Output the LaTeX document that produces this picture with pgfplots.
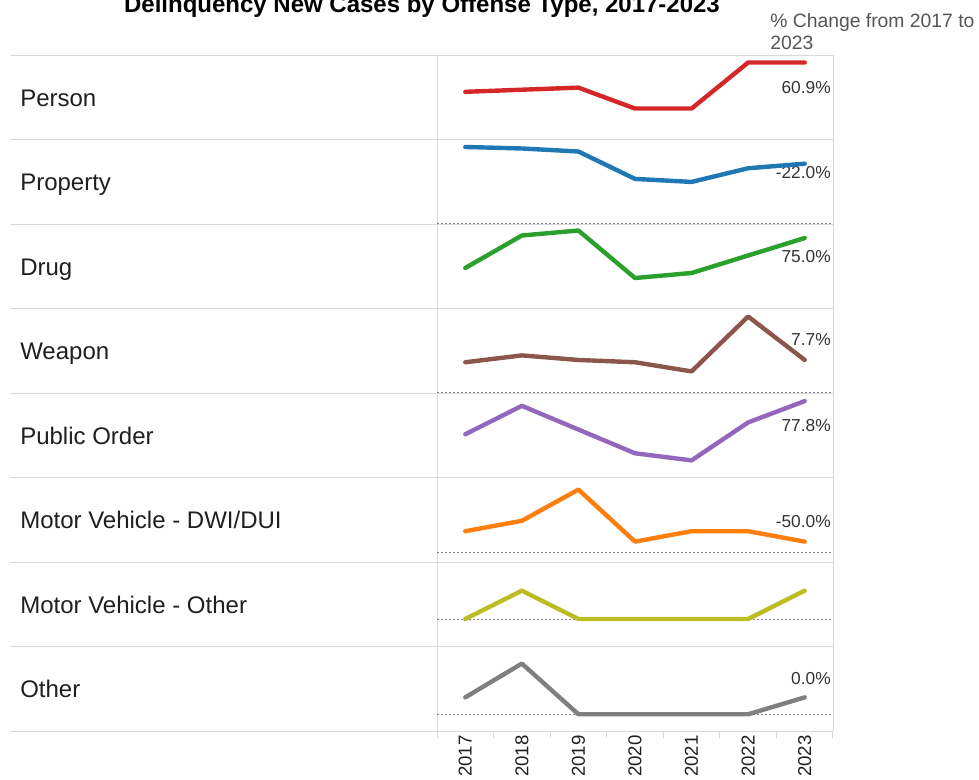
\documentclass[border=0pt]{standalone}
\usepackage{fontspec}
\setmainfont{Liberation Sans}
\usepackage{pgfplots}
\pgfplotsset{compat=1.18}

\definecolor{cPerson}{HTML}{D62728}
\definecolor{cProperty}{HTML}{1F77B4}
\definecolor{cDrug}{HTML}{2CA02C}
\definecolor{cWeapon}{HTML}{8C564B}
\definecolor{cPublic}{HTML}{9467BD}
\definecolor{cDWI}{HTML}{FF7F0E}
\definecolor{cMVO}{HTML}{BCBD22}
\definecolor{cOther}{HTML}{7F7F7F}
\definecolor{gridgray}{HTML}{D9D9D9}
\definecolor{zerogray}{HTML}{808080}
\definecolor{pcttext}{HTML}{333333}
\definecolor{headtext}{HTML}{555555}

% years are plotted at 0..6 (2017..2023)
\pgfplotsset{
  spark/.style={
    anchor=south west, scale only axis,
    width=297pt, height=63.375pt,
    xmin=-0.5, xmax=6.5,
    hide axis, clip=false,
  },
}
\tikzset{
  sline/.style={line width=3.3pt, line cap=round, line join=round},
  zero/.style={zerogray, line width=0.75pt, dash pattern=on 1.5pt off 1.5pt},
}

\begin{document}
\begin{tikzpicture}[x=0.75pt, y=0.75pt]
% picture frame in pixels, y measured downward as -y
\clip (0,0) rectangle (979,-779);

% row bottoms of the sparkline panel
\foreach \n/\y in {1/139.5,2/224,3/308.5,4/393,5/477.5,6/562,7/646.5,8/731}
  \coordinate (r\n) at (437,-\y);

% title and header
\node[anchor=base, font=\bfseries\fontsize{18}{20}\selectfont] at (422,-12)
  {Delinquency New Cases by Offense Type, 2017-2023};
\node[anchor=base west, inner sep=0pt, font=\fontsize{14.5}{16}\selectfont, text=headtext] at (770,-27)
  {\% Change from 2017 to};
\node[anchor=base west, inner sep=0pt, font=\fontsize{14.5}{16}\selectfont, text=headtext] at (770,-49)
  {2023};

% table lines
\foreach \y in {55,139.5,224,308.5,393,477.5,562,646.5,731}
  \draw[gridgray, line width=0.75pt] (10,-\y) -- (833,-\y);
\draw[gridgray, line width=0.75pt] (437,-55) -- (437,-731);
\draw[gridgray, line width=0.75pt] (833,-55) -- (833,-731);

% row labels
\foreach \lab [count=\i from 0] in {Person,Property,Drug,Weapon,Public Order,
    Motor Vehicle - DWI/DUI,Motor Vehicle - Other,Other}
  \node[anchor=base west, inner sep=0pt, font=\fontsize{18}{20}\selectfont, text=black!88]
    at (20,{-(97.25+84.5*\i+8.75)}) {\lab};

% percent change labels
\foreach \yy/\pct in {93.5/60.9\%,178/-22.0\%,262.7/75.0\%,345.7/7.7\%,
    431.7/77.8\%,527.7/-50.0\%,684/0.0\%}
  \node[anchor=base east, inner sep=0pt, font=\fontsize{13}{15}\selectfont, text=pcttext]
    at (831,-\yy) {\pct};

% Person
\begin{axis}[spark, at={(r1)}, ymin=0.2, ymax=40.6]
\addplot[cPerson, sline] coordinates {
  (0,23) (1,24) (2,25) (3,15) (4,15) (5,37) (6,37)};
\end{axis}

% Property
\begin{axis}[spark, at={(r2)}, ymin=-0.66, ymax=54.9]
\draw[zero] (axis cs:-0.5,0) -- (axis cs:6.5,0);
\addplot[cProperty, sline] coordinates {
  (0,50) (1,49) (2,47) (3,29) (4,27) (5,36) (6,39)};
\end{axis}

% Drug
\begin{axis}[spark, at={(r3)}, ymin=-0.2, ymax=33.6]
\addplot[cDrug, sline] coordinates {
  (0,16) (1,29) (2,31) (3,12) (4,14) (5,21) (6,28)};
\end{axis}

% Weapon
\begin{axis}[spark, at={(r4)}, ymin=-0.44, ymax=36.5]
\draw[zero] (axis cs:-0.5,0) -- (axis cs:6.5,0);
\addplot[cWeapon, sline] coordinates {
  (0,13) (1,16) (2,14) (3,13) (4,9) (5,33) (6,14)};
\end{axis}

% Public Order
\begin{axis}[spark, at={(r5)}, ymin=-0.21, ymax=35.4]
\addplot[cPublic, sline] coordinates {
  (0,18) (1,30) (2,20) (3,10) (4,7) (5,23) (6,32)};
\end{axis}

% Motor Vehicle - DWI/DUI
\begin{axis}[spark, at={(r6)}, ymin=-0.96, ymax=7.16]
\draw[zero] (axis cs:-0.5,0) -- (axis cs:6.5,0);
\addplot[cDWI, sline] coordinates {
  (0,2) (1,3) (2,6) (3,1) (4,2) (5,2) (6,1)};
\end{axis}

% Motor Vehicle - Other
\begin{axis}[spark, at={(r7)}, ymin=-0.97, ymax=2.01]
\draw[zero] (axis cs:-0.5,0) -- (axis cs:6.5,0);
\addplot[cMVO, sline] coordinates {
  (0,0) (1,1) (2,0) (3,0) (4,0) (5,0) (6,1)};
\end{axis}

% Other, with the year axis
\begin{axis}[
  anchor=south west, scale only axis,
  at={(r8)}, width=297pt, height=63.375pt,
  xmin=-0.5, xmax=6.5, ymin=-0.99, ymax=4.01,
  clip=false,
  axis y line=none, axis x line*=bottom,
  x axis line style={gridgray, line width=0.75pt},
  xtick={-0.5,0.5,1.5,2.5,3.5,4.5,5.5,6.5},
  xticklabels={},
  xtick align=outside,
  major tick length=5.25pt,
  tick style={gridgray, line width=0.75pt},
  extra x ticks={0,1,2,3,4,5,6},
  extra x tick labels={2017,2018,2019,2020,2021,2022,2023},
  extra x tick style={major tick length=0pt,
    xticklabel style={rotate=90, anchor=east, inner sep=3pt,
      font=\fontsize{14}{16}\selectfont, text=black!88}},
]
\draw[zero] (axis cs:-0.5,0) -- (axis cs:6.5,0);
\addplot[cOther, sline] coordinates {
  (0,1) (1,3) (2,0) (3,0) (4,0) (5,0) (6,1)};
\end{axis}
\end{tikzpicture}
\end{document}
